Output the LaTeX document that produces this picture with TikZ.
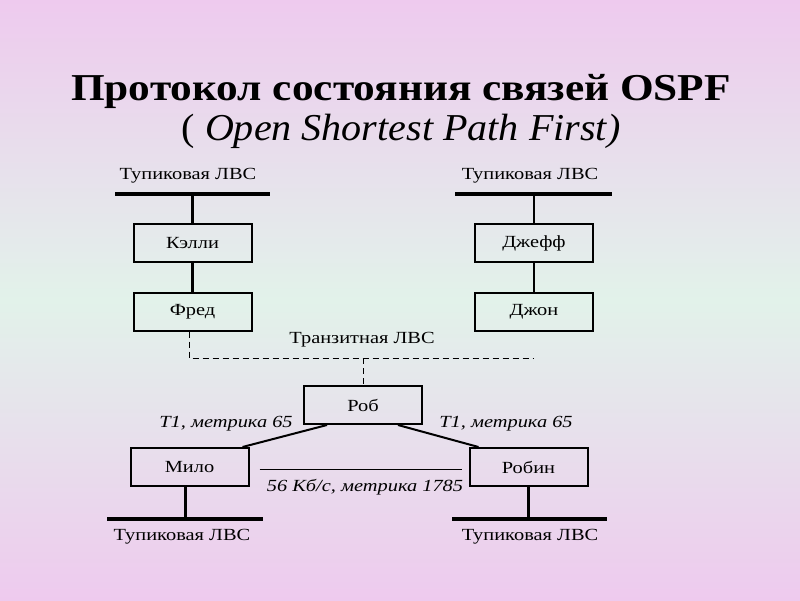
\documentclass[tikz,border=0pt]{standalone}
\usepackage{graphicx}
\usepackage{fontspec}
\setmainfont{Liberation Serif}
\definecolor{pinkc}{RGB}{238,202,238}
\definecolor{mintc}{RGB}{226,242,234}
\newcommand\dfont{\fontsize{17}{19}\selectfont}
\newcommand\wtxt[1]{\scalebox{1.2}[1]{#1}}
\tikzset{
  box/.style={draw=black, line width=2pt, minimum width=118pt, minimum height=38pt, inner sep=0pt, font=\dfont},
  bar/.style={line width=4pt},
  link/.style={line width=2.4pt},
  lbl/.style={font=\dfont, inner sep=0pt},
  ilbl/.style={font=\dfont\itshape, inner sep=0pt},
  transit/.style={line width=1pt, dash pattern=on 6pt off 4pt}
}
\begin{document}
\begin{tikzpicture}[x=1pt, y={(0pt,-1pt)}]
\shade[top color=pinkc, bottom color=pinkc, middle color=mintc] (0,0) rectangle (800,600);
\useasboundingbox (0,0) rectangle (800,600);

% title
\node[anchor=base, inner sep=0pt, font=\fontsize{38}{42}\selectfont\bfseries] (t1) at (401,100) {\scalebox{1.14}[1]{Протокол состояния связей OSPF}};
\node[anchor=base, inner sep=0pt, font=\fontsize{38}{42}\selectfont] (t2) at (401,140) {\scalebox{1.055}[1]{( \textit{Open Shortest Path First)}}};

% top-left
\node[lbl] (ltl) at (188,176) {\wtxt{Тупиковая ЛВС}};
\coordinate (btlA) at (115,194);
\coordinate (btlB) at (270,194);
\draw[bar] (btlA) -- (btlB);
\node[box] (kelly) at (192.5,243) {\wtxt{Кэлли}};
\node[box] (fred) at (192.5,311.5) {\wtxt{Фред}};
\draw[link] (kelly.north) -- (kelly.north |- btlA);
\draw[link] (kelly.south) -- (fred.north);

% top-right
\node[lbl] (ltr) at (530,176) {\wtxt{Тупиковая ЛВС}};
\coordinate (btrA) at (455,194);
\coordinate (btrB) at (612,194);
\draw[bar] (btrA) -- (btrB);
\node[box] (jeff) at (534,243) {\wtxt{Джефф}};
\node[box] (john) at (534,311.5) {\wtxt{Джон}};
\draw[link] (jeff.north) -- (jeff.north |- btrA);
\draw[link] (jeff.south) -- (john.north);

% transit
\node[lbl] (ltrans) at (362,340) {\wtxt{Транзитная ЛВС}};
\coordinate (trL) at (189,358);
\coordinate (trR) at (533,358);
\node[box] (rob) at (363,405) {\wtxt{Роб}};
\draw[transit] (fred.south -| trL) -- (trL) -- (trR);
\draw[transit] (rob.north |- trL) -- (rob.north);

% lower
\node[box] (milo) at (189.5,467) {\wtxt{Мило}};
\node[box] (robin) at (528.5,467) {\wtxt{Робин}};
\draw[line width=2pt] ([xshift=-36pt]rob.south) -- ([xshift=53pt]milo.north);
\draw[line width=2pt] ([xshift=35pt]rob.south) -- ([xshift=-50pt]robin.north);
\node[ilbl] (m1) at (226,424) {\wtxt{Т1, метрика 65}};
\node[ilbl] (m2) at (506,424) {\wtxt{Т1, метрика 65}};
\draw[line width=0.7pt] ([xshift=10pt,yshift=-2pt]milo.east) -- ([xshift=-7pt,yshift=-2pt]robin.west);
\node[ilbl] (m3) at (365,487) {\wtxt{56 Кб/с, метрика 1785}};

% bottom
\coordinate (bblA) at (107,519);
\coordinate (bblB) at (263,519);
\coordinate (bbrA) at (452,519);
\coordinate (bbrB) at (607,519);
\draw[bar] (bblA) -- (bblB);
\draw[bar] (bbrA) -- (bbrB);
\draw[link] ([xshift=-4pt]milo.south) -- ([xshift=-4pt]milo.south |- bblA);
\draw[link] (robin.south) -- (robin.south |- bbrA);
\node[lbl] (lbl1) at (182,537) {\wtxt{Тупиковая ЛВС}};
\node[lbl] (lbr) at (530,537) {\wtxt{Тупиковая ЛВС}};
\end{tikzpicture}
\end{document}
